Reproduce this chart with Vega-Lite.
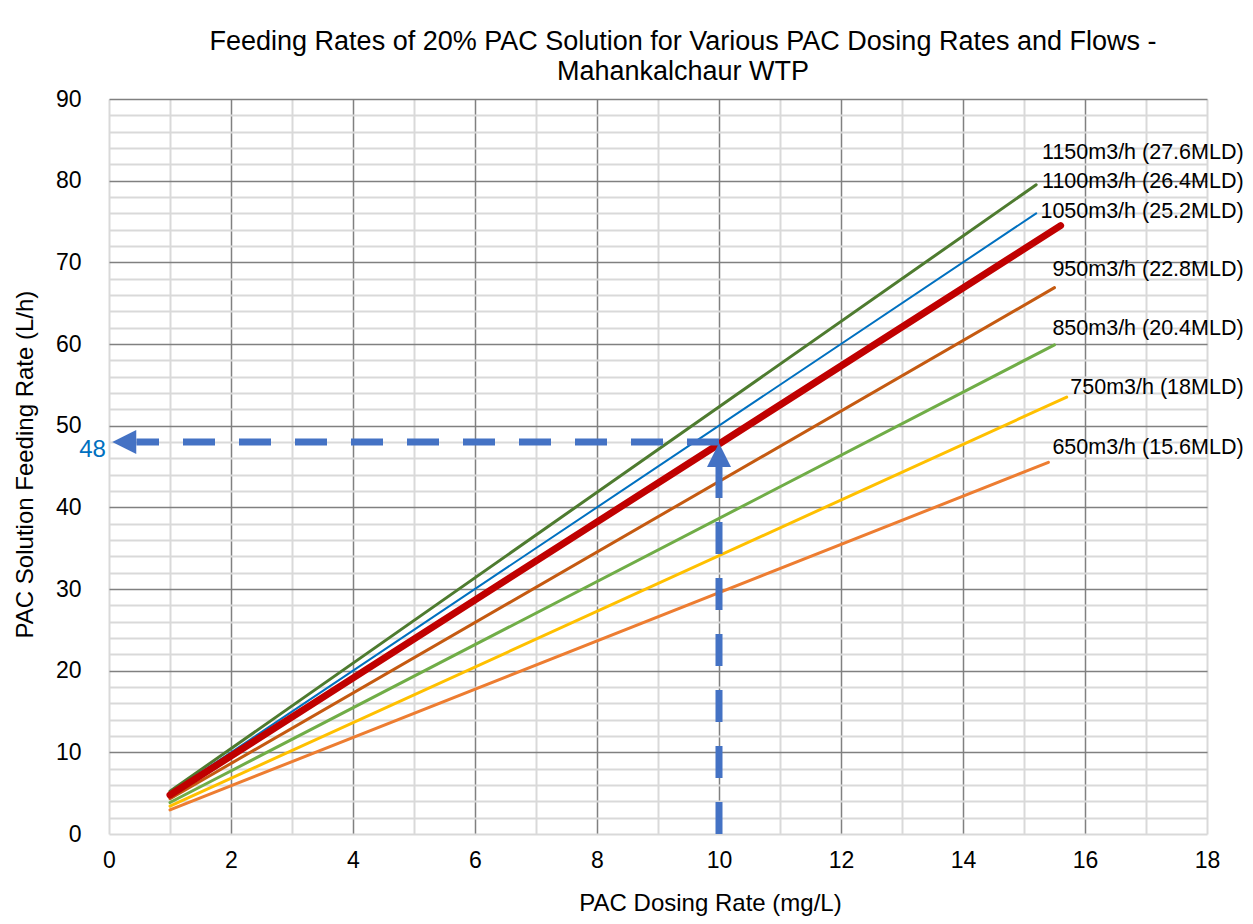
{
  "$schema": "https://vega.github.io/schema/vega-lite/v6.json",
  "width": 1098,
  "height": 735,
  "autosize": {"type": "none"},
  "padding": {"left": 109, "top": 99, "right": 46, "bottom": 90},
  "background": "white",
  "config": {"font": "Liberation Sans", "view": {"stroke": null}},
  "title": {
    "text": ["Feeding Rates of 20% PAC Solution for Various PAC Dosing Rates and Flows -", "Mahankalchaur WTP"],
    "fontSize": 27,
    "fontWeight": "normal",
    "color": "#000000",
    "lineHeight": 30,
    "offset": 2,
    "dx": 25,
    "anchor": "middle"
  },
  "datasets": {
    "series": [
      {"flow": "1150", "dose": 1, "rate": 5.23},
      {"flow": "1150", "dose": 15.2, "rate": 79.5},
      {"flow": "1100", "dose": 1, "rate": 5.0},
      {"flow": "1100", "dose": 15.2, "rate": 76.0},
      {"flow": "1050", "dose": 1, "rate": 4.77},
      {"flow": "1050", "dose": 15.6, "rate": 74.5},
      {"flow": "950", "dose": 1, "rate": 4.32},
      {"flow": "950", "dose": 15.5, "rate": 66.9},
      {"flow": "850", "dose": 1, "rate": 3.86},
      {"flow": "850", "dose": 15.5, "rate": 59.9},
      {"flow": "750", "dose": 1, "rate": 3.41},
      {"flow": "750", "dose": 15.7, "rate": 53.5},
      {"flow": "650", "dose": 1, "rate": 2.95},
      {"flow": "650", "dose": 15.4, "rate": 45.5}
    ],
    "guides": [
      {"seg": "h", "ord": 0, "dose": 10, "rate": 48},
      {"seg": "h", "ord": 1, "dose": 0.45, "rate": 48},
      {"seg": "v", "ord": 0, "dose": 10, "rate": 0},
      {"seg": "v", "ord": 1, "dose": 10, "rate": 45.5}
    ],
    "heads": [
      {"dir": "left", "dose": 0.25, "rate": 48},
      {"dir": "up", "dose": 10, "rate": 46.4}
    ],
    "labels": [
      {"label": "1150m3/h (27.6MLD)", "dose": 18.6, "rate": 83.4},
      {"label": "1100m3/h (26.4MLD)", "dose": 18.6, "rate": 79.8},
      {"label": "1050m3/h (25.2MLD)", "dose": 18.6, "rate": 76.2},
      {"label": "950m3/h (22.8MLD)", "dose": 18.6, "rate": 69.1},
      {"label": "850m3/h (20.4MLD)", "dose": 18.6, "rate": 61.8},
      {"label": "750m3/h (18MLD)", "dose": 18.6, "rate": 54.6},
      {"label": "650m3/h (15.6MLD)", "dose": 18.6, "rate": 47.3}
    ],
    "marker": [
      {"label": "48", "dose": -0.05, "rate": 47.0}
    ]
  },
  "layer": [
    {
      "data": {"name": "series"},
      "transform": [{"filter": "datum.flow !== '1050'"}],
      "mark": {"type": "line", "strokeCap": "round"},
      "encoding": {
        "x": {
          "field": "dose",
          "type": "quantitative",
          "scale": {"domain": [0, 18], "nice": false, "zero": false},
          "axis": {
            "values": [0,1,2,3,4,5,6,7,8,9,10,11,12,13,14,15,16,17,18],
            "tickCount": 200,
            "format": "d",
            "labelExpr": "datum.value % 2 === 0 ? datum.label : ''",
            "labelOverlap": false,
            "grid": true,
            "gridColor": {"condition": {"test": "datum.value % 2 === 0 && datum.value > 0 && datum.value < 18", "value": "#808080"}, "value": "#D9D9D9"},
            "gridWidth": {"condition": {"test": "datum.value % 2 === 0 && datum.value > 0 && datum.value < 18", "value": 1.5}, "value": 2},
            "ticks": false,
            "domain": false,
            "labelFontSize": 23,
            "labelColor": "#000000",
            "labelPadding": 15,
            "labelFlush": false,
            "title": "PAC Dosing Rate (mg/L)",
            "titleFontSize": 24,
            "titleFontWeight": "normal",
            "titleColor": "#000000",
            "titleX": 601,
            "titleY": 76,
            "titleBaseline": "alphabetic"
          }
        },
        "y": {
          "field": "rate",
          "type": "quantitative",
          "scale": {"domain": [0, 90], "nice": false},
          "axis": {
            "values": [0,2,4,6,8,10,12,14,16,18,20,22,24,26,28,30,32,34,36,38,40,42,44,46,48,50,52,54,56,58,60,62,64,66,68,70,72,74,76,78,80,82,84,86,88,90],
            "tickCount": 200,
            "format": "d",
            "labelExpr": "datum.value % 10 === 0 ? datum.label : ''",
            "labelOverlap": false,
            "grid": true,
            "gridColor": {"condition": {"test": "datum.value % 10 === 0 && datum.value > 0", "value": "#808080"}, "value": "#D9D9D9"},
            "gridWidth": {"condition": {"test": "datum.value % 10 === 0 && datum.value > 0", "value": 1.5}, "value": 2},
            "ticks": false,
            "domain": false,
            "labelFontSize": 23,
            "labelColor": "#000000",
            "labelPadding": 28,
            "labelFlush": false,
            "title": "PAC Solution Feeding Rate  (L/h)",
            "titleFontSize": 24,
            "titleFontWeight": "normal",
            "titleColor": "#000000",
            "titleAngle": -90,
            "titleX": -77,
            "titleY": 365,
            "titleBaseline": "alphabetic"
          }
        },
        "color": {
          "field": "flow",
          "type": "nominal",
          "scale": {
            "domain": ["650", "750", "850", "950", "1050", "1100", "1150"],
            "range": ["#ED7D31", "#FFC000", "#70AD47", "#C55A11", "#C00000", "#0070C0", "#4E7B2F"]
          },
          "legend": null
        },
        "strokeWidth": {
          "condition": {"test": "datum.flow === '1100'", "value": 2},
          "value": 3
        }
      }
    },
    {
      "data": {"name": "series"},
      "transform": [{"filter": "datum.flow === '1050'"}],
      "mark": {"type": "line", "strokeCap": "round", "strokeWidth": 7},
      "encoding": {
        "x": {"field": "dose", "type": "quantitative", "scale": {"domain": [0, 18], "nice": false}},
        "y": {"field": "rate", "type": "quantitative", "scale": {"domain": [0, 90], "nice": false}},
        "color": {"field": "flow", "type": "nominal", "legend": null}
      }
    },
    {
      "data": {"name": "guides"},
      "mark": {"type": "line", "color": "#4472C4", "strokeWidth": 7, "strokeDash": [32, 24], "strokeCap": "butt"},
      "encoding": {
        "x": {"field": "dose", "type": "quantitative", "scale": {"domain": [0, 18], "nice": false}},
        "y": {"field": "rate", "type": "quantitative", "scale": {"domain": [0, 90], "nice": false}},
        "detail": {"field": "seg", "type": "nominal"},
        "order": {"field": "ord", "type": "quantitative"}
      }
    },
    {
      "data": {"name": "heads"},
      "mark": {"type": "point", "filled": true, "opacity": 1, "color": "#4472C4", "size": 576, "strokeWidth": 0},
      "encoding": {
        "x": {"field": "dose", "type": "quantitative", "scale": {"domain": [0, 18], "nice": false}},
        "y": {"field": "rate", "type": "quantitative", "scale": {"domain": [0, 90], "nice": false}},
        "shape": {
          "field": "dir",
          "type": "nominal",
          "scale": {"domain": ["left", "up"], "range": ["M-1,0L1,-1L1,1Z", "M0,-1L1,1L-1,1Z"]},
          "legend": null
        }
      }
    },
    {
      "data": {"name": "labels"},
      "mark": {"type": "text", "align": "right", "baseline": "middle", "fontSize": 21.5, "color": "#000000", "clip": false},
      "encoding": {
        "x": {"field": "dose", "type": "quantitative", "scale": {"domain": [0, 18], "nice": false}},
        "y": {"field": "rate", "type": "quantitative", "scale": {"domain": [0, 90], "nice": false}},
        "text": {"field": "label", "type": "nominal"}
      }
    },
    {
      "data": {"name": "marker"},
      "mark": {"type": "text", "align": "right", "baseline": "middle", "fontSize": 24, "color": "#0070C0", "clip": false},
      "encoding": {
        "x": {"field": "dose", "type": "quantitative", "scale": {"domain": [0, 18], "nice": false}},
        "y": {"field": "rate", "type": "quantitative", "scale": {"domain": [0, 90], "nice": false}},
        "text": {"field": "label", "type": "nominal"}
      }
    }
  ]
}
